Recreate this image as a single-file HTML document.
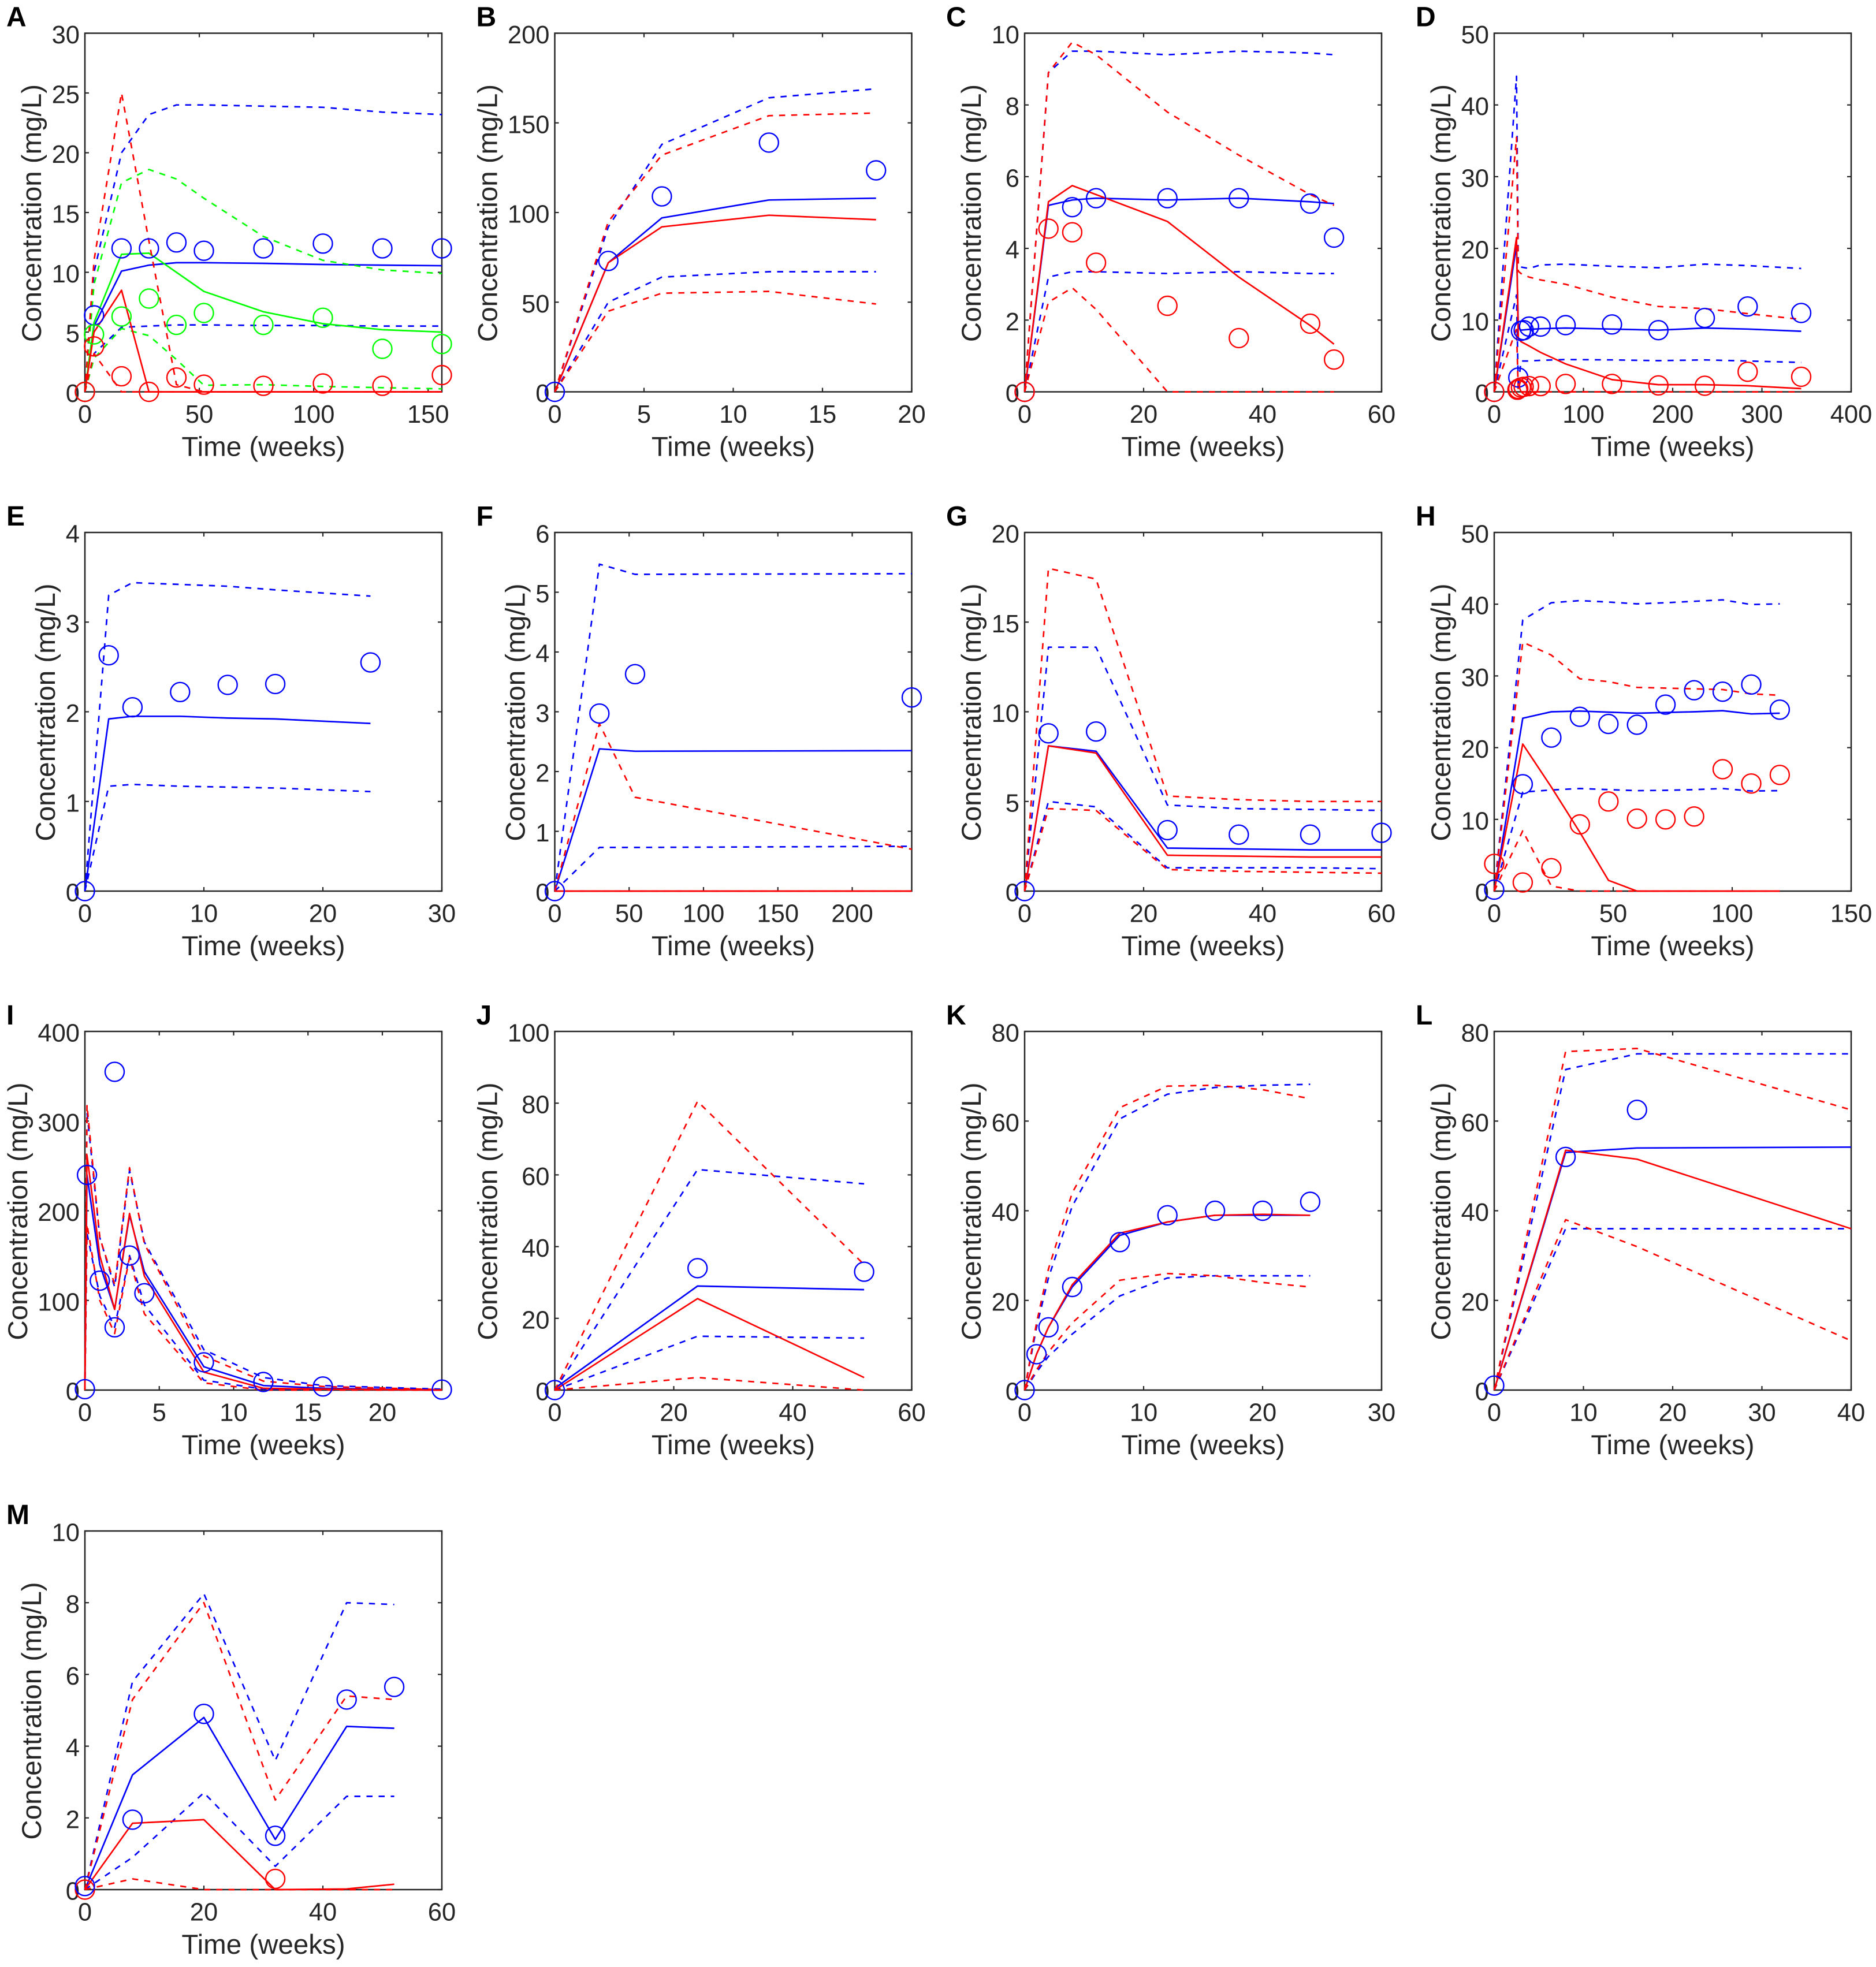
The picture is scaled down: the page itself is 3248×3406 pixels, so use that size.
<!DOCTYPE html>
<html>
<head>
<meta charset="utf-8">
<title>Concentration vs time panels</title>
<style>
html,body{margin:0;padding:0;background:#fff;}
svg{display:block;}
text{font-family:"Liberation Sans",sans-serif;fill:#262626;}
</style>
</head>
<body>
<svg id="figure" xmlns="http://www.w3.org/2000/svg" width="3248" height="3406" viewBox="0 0 3248 3406"></svg>
<script>
// ---------- Panel A ----------
const aXTicks=[0,50,100,150];
const aYTicks=[0,5,10,15,20,25,30];
const aTimes=[0,4,16,28,40,52,78,104,130,156];
const aBlueMid=[0,5.5,10.1,10.6,10.8,10.8,10.75,10.65,10.6,10.55];
const aBlueHigh=[0,10,20,23.2,24,24,23.9,23.8,23.4,23.2];
const aBlueLow=[0,3.2,5.4,5.5,5.6,5.6,5.55,5.55,5.5,5.5];
const aGreenMid=[0,5.8,11.5,11.6,10,8.4,6.7,5.7,5.2,5];
const aGreenHigh=[0,9,17.5,18.6,17.8,16.2,13,11,10.2,9.9];
const aGreenLow=[0,2.8,5.3,4.7,2.7,0.55,0.6,0.45,0.35,0.25];
const aRedMid=[0,5,8.5,0,0,0,0,0,0,0];
const aRedHigh=[0,11,25,12.6,0.6,0,0,0,0,0];
const aRedLow=[0,3.2,0,0,0,0,0,0,0,0];
const aBlueObs=[0,6.4,12,12,12.5,11.8,12,12.4,12,12];
const aGreenObs=[0,4.8,6.3,7.8,5.6,6.6,5.6,6.2,3.6,4];
const aRedObs=[0,3.8,1.3,0,1.2,0.6,0.5,0.7,0.5,1.4];
// ---------- Panel B ----------
const bXTicks=[0,5,10,15,20];
const bYTicks=[0,50,100,150,200];
const bTimes=[0,3,6,12,18];
const bBlueMid=[0,72,97,107,108];
const bBlueHigh=[0,92,138,164,169];
const bBlueLow=[0,50,64,67,67];
const bRedMid=[0,72,92,98.5,96];
const bRedHigh=[0,95,132,154,155.5];
const bRedLow=[0,45,55,56,49];
const bBlueObs=[0,73,109,139,123.5];
// ---------- Panel C ----------
const cXTicks=[0,20,40,60];
const cYTicks=[0,2,4,6,8,10];
const cTimes=[0,4,8,12,24,36,48,52];
const cBlueMid=[0,5.2,5.35,5.4,5.35,5.4,5.3,5.25];
const cBlueHigh=[0,8.9,9.5,9.5,9.4,9.5,9.45,9.4];
const cBlueLow=[0,3.2,3.35,3.35,3.3,3.35,3.3,3.3];
const cRedMid=[0,5.3,5.75,5.5,4.75,3.2,1.85,1.33];
const cRedHigh=[0,8.9,9.75,9.4,7.8,6.6,5.5,5.2];
const cRedLow=[0,2.5,2.9,2.3,0,0,0,0];
const cObsTimes=[0,4,8,12,24,36,48,52];
const cRedObs=[0,4.55,4.45,3.6,2.4,1.5,1.9,0.9];
const cBlueObsTimes=[0,8,12,24,36,48,52];
const cBlueObs=[0,5.15,5.4,5.4,5.4,5.25,4.3];
// ---------- Panel D ----------
const dXTicks=[0,100,200,300,400];
const dYTicks=[0,10,20,30,40,50];
const dTimes=[0,25,27,30,39,52,80,132,184,236,284,344];
const dBlueMid=[0,20.5,9,8.6,8.7,8.8,8.9,8.75,8.6,8.9,8.75,8.45];
const dBlueHigh=[0,44,17.5,17.4,17.2,17.7,17.8,17.5,17.3,17.8,17.6,17.2];
const dBlueLow=[0,13.5,0.7,4.3,4.3,4.4,4.5,4.45,4.35,4.45,4.3,4.1];
const dRedMid=[0,21.5,7.5,7,6.4,5.5,3.9,1.7,1,1,0.85,0.45];
const dRedHigh=[0,35.5,16.8,16.5,16,15.6,15,13.2,11.9,11.6,10.9,10.1];
const dRedLow=[0,8.8,0,0,0,0,0,0,0,0,0,0];
const dObsTimes=[0,26,27,30,33,39,52,80,132,184,236,284,344];
const dBlueObs=[0,0.3,2,8.5,8.6,9.1,9.1,9.3,9.4,8.6,10.3,11.9,11];
const dRedObs=[0,0.3,0.4,0.6,0.7,0.8,0.8,1.1,1.1,0.9,0.85,2.8,2.1];
// ---------- Panel E ----------
const eXTicks=[0,10,20,30];
const eYTicks=[0,1,2,3,4];
const eTimes=[0,2,4,8,12,16,24];
const eBlueMid=[0,1.92,1.95,1.95,1.93,1.92,1.87];
const eBlueHigh=[0,3.3,3.44,3.42,3.4,3.36,3.29];
const eBlueLow=[0,1.17,1.19,1.17,1.16,1.15,1.11];
const eBlueObs=[0,2.63,2.05,2.22,2.3,2.31,2.55];
// ---------- Panel F ----------
const fXTicks=[0,50,100,150,200];
const fYTicks=[0,1,2,3,4,5,6];
const fTimes=[0,30,54,240];
const fBlueMid=[0,2.38,2.34,2.35];
const fBlueHigh=[0,5.47,5.3,5.31];
const fBlueLow=[0,0.73,0.73,0.75];
const fRedMid=[0,0,0,0];
const fRedHigh=[0,2.8,1.57,0.7];
const fRedLow=[0,0,0,0];
const fBlueObs=[0,2.97,3.63,3.24];
// ---------- Panel G ----------
const gXTicks=[0,20,40,60];
const gYTicks=[0,5,10,15,20];
const gTimes=[0,4,12,24,36,48,60];
const gBlueMid=[0,8.1,7.8,2.4,2.35,2.3,2.3];
const gBlueHigh=[0,13.6,13.6,4.8,4.6,4.55,4.5];
const gBlueLow=[0,5,4.7,1.3,1.3,1.3,1.25];
const gRedMid=[0,8.1,7.7,2,1.95,1.9,1.9];
const gRedHigh=[0,18,17.4,5.3,5.1,5,5];
const gRedLow=[0,4.6,4.5,1.2,1.1,1.05,1];
const gBlueObs=[0,8.8,8.9,3.4,3.15,3.15,3.25];
// ---------- Panel H ----------
const hXTicks=[0,50,100,150];
const hYTicks=[0,10,20,30,40,50];
const hTimes=[0,12,24,36,48,60,72,84,96,108,120];
const hBlueMid=[0,24.1,25,25.1,24.95,24.8,24.9,25,25.15,24.7,24.8];
const hBlueHigh=[0,37.8,40.2,40.5,40.3,40.05,40.2,40.4,40.6,39.95,40.05];
const hBlueLow=[0,13.8,14.1,14.3,14.15,14,14.05,14.15,14.3,13.95,14];
const hRedMid=[0,20.5,14.5,8.2,1.5,0,0,0,0,0,0];
const hRedHigh=[0,34.7,32.9,29.6,29.2,28.4,28.3,28.2,28.1,27.5,27.3];
const hRedLow=[0,8.4,0.7,0,0,0,0,0,0,0,0];
const hRedObs=[3.8,1.2,3.2,9.3,12.5,10.1,10,10.4,17,15,16.2];
const hBlueObs=[0.2,14.9,21.4,24.3,23.3,23.2,26,28,27.8,28.8,25.3];
// ---------- Panel I ----------
const iXTicks=[0,5,10,15,20];
const iYTicks=[0,100,200,300,400];
const iTimes=[0,0.14,1,2,3,4,8,12,16,24];
const iBlueMid=[0,240,140,90,195,132,26,5,2,0];
const iBlueHigh=[0,310,170,115,245,165,45,14,5,1];
const iBlueLow=[0,175,105,70,150,95,11,1,1,0];
const iRedMid=[0,262,150,90,197,127,20,2,1,0];
const iRedHigh=[0,318,170,118,248,163,38,10,4,0.5];
const iRedLow=[0,185,100,63,148,85,8,0,0,0];
const iObsTimes=[0,0.14,1,2,2,3,4,8,12,16,24];
const iBlueObs=[1,240,122,355,70,150,108,31,9,4,0.5];
// ---------- Panel J ----------
const jXTicks=[0,20,40,60];
const jYTicks=[0,20,40,60,80,100];
const jTimes=[0,24,52];
const jBlueMid=[0.5,29,28];
const jBlueHigh=[0,61.5,57.5];
const jBlueLow=[0,15,14.5];
const jRedMid=[0,25.5,3.5];
const jRedHigh=[0,80.5,35];
const jRedLow=[0,3.5,0];
const jBlueObs=[0,34,33];
// ---------- Panel K ----------
const kXTicks=[0,10,20,30];
const kYTicks=[0,20,40,60,80];
const kTimes=[0,1,2,4,8,12,16,20,24];
const kBlueMid=[0,8,14,23,34.5,37.5,39,39,39];
const kBlueHigh=[0,14,25,41,60.5,66,67.5,68,68.2];
const kBlueLow=[0,4,7.5,12.5,21,25,25.5,25.5,25.5];
const kRedMid=[0,8,14,23.5,35,37.5,39,39.2,39];
const kRedHigh=[0,15,27,44,63,67.8,68,67,65];
const kRedLow=[0,4.5,8.5,15,24.5,26,25.5,24,23];
const kBlueObs=[0,8,14,23,33,39,40,40,42];
// ---------- Panel L ----------
const lXTicks=[0,10,20,30,40];
const lYTicks=[0,20,40,60,80];
const lTimes=[0,8,16,40];
const lBlueMid=[0,53,54,54.2];
const lBlueHigh=[0,71.5,75,75];
const lBlueLow=[0,36,36,36];
const lRedMid=[0,53.5,51.5,36];
const lRedHigh=[0,75.5,76.2,62.5];
const lRedLow=[0,38,32,11];
const lObsTimes=[0,8,16];
const lBlueObs=[1,52,62.5];
// ---------- Panel M ----------
const mXTicks=[0,20,40,60];
const mYTicks=[0,2,4,6,8,10];
const mTimes=[0,8,20,32,44,52];
const mBlueMid=[0,3.2,4.8,1.4,4.55,4.5];
const mBlueHigh=[0,5.8,8.25,3.6,8,7.95];
const mBlueLow=[0,0.9,2.7,0.65,2.6,2.6];
const mRedMid=[0,1.85,1.95,0,0.02,0.15];
const mRedHigh=[0,5.3,8,2.5,5.4,5.3];
const mRedLow=[0,0.3,0,0,0,0];
const mRedObsTimes=[0,32];
const mRedObs=[0,0.3];
const mBlueObs=[0.1,1.95,4.9,1.5,5.3,5.65];

const BLUE='#0000ff', RED='#ff0000', GREEN='#00ff00', INK='#262626';
const colLeft=[147,960.5,1774,2587];
const rowTop=[57.5,922,1786,2651];
const plotW=618, plotH=621;
const NS='http://www.w3.org/2000/svg';
const fig=document.getElementById('figure');

function make(tag,parent){
  const el=document.createElementNS(NS,tag);
  parent.appendChild(el);
  return el;
}
function band(color,label,xs,mid,high,low){
  return [
    {color:color,dash:false,name:label+'-median-line',xs:xs,ys:mid},
    {color:color,dash:true,name:label+'-upper-bound-line',xs:xs,ys:high},
    {color:color,dash:true,name:label+'-lower-bound-line',xs:xs,ys:low}
  ];
}
const panelDefs=[
 {id:'A',col:0,row:0,xMax:156,xTicks:aXTicks,yTicks:aYTicks,
  lines:[].concat(band(BLUE,'blue',aTimes,aBlueMid,aBlueHigh,aBlueLow),band(GREEN,'green',aTimes,aGreenMid,aGreenHigh,aGreenLow),band(RED,'red',aTimes,aRedMid,aRedHigh,aRedLow)),
  obs:[{color:BLUE,name:'blue',xs:aTimes,ys:aBlueObs},{color:GREEN,name:'green',xs:aTimes,ys:aGreenObs},{color:RED,name:'red',xs:aTimes,ys:aRedObs}]},
 {id:'B',col:1,row:0,xMax:20,xTicks:bXTicks,yTicks:bYTicks,
  lines:[].concat(band(BLUE,'blue',bTimes,bBlueMid,bBlueHigh,bBlueLow),band(RED,'red',bTimes,bRedMid,bRedHigh,bRedLow)),
  obs:[{color:BLUE,name:'blue',xs:bTimes,ys:bBlueObs}]},
 {id:'C',col:2,row:0,xMax:60,xTicks:cXTicks,yTicks:cYTicks,
  lines:[].concat(band(BLUE,'blue',cTimes,cBlueMid,cBlueHigh,cBlueLow),band(RED,'red',cTimes,cRedMid,cRedHigh,cRedLow)),
  obs:[{color:BLUE,name:'blue',xs:cBlueObsTimes,ys:cBlueObs},{color:RED,name:'red',xs:cObsTimes,ys:cRedObs}]},
 {id:'D',col:3,row:0,xMax:400,xTicks:dXTicks,yTicks:dYTicks,
  lines:[].concat(band(BLUE,'blue',dTimes,dBlueMid,dBlueHigh,dBlueLow),band(RED,'red',dTimes,dRedMid,dRedHigh,dRedLow)),
  obs:[{color:BLUE,name:'blue',xs:dObsTimes,ys:dBlueObs},{color:RED,name:'red',xs:dObsTimes,ys:dRedObs}]},
 {id:'E',col:0,row:1,xMax:30,xTicks:eXTicks,yTicks:eYTicks,
  lines:band(BLUE,'blue',eTimes,eBlueMid,eBlueHigh,eBlueLow),
  obs:[{color:BLUE,name:'blue',xs:eTimes,ys:eBlueObs}]},
 {id:'F',col:1,row:1,xMax:240,xTicks:fXTicks,yTicks:fYTicks,
  lines:[].concat(band(BLUE,'blue',fTimes,fBlueMid,fBlueHigh,fBlueLow),band(RED,'red',fTimes,fRedMid,fRedHigh,fRedLow)),
  obs:[{color:BLUE,name:'blue',xs:fTimes,ys:fBlueObs}]},
 {id:'G',col:2,row:1,xMax:60,xTicks:gXTicks,yTicks:gYTicks,
  lines:[].concat(band(BLUE,'blue',gTimes,gBlueMid,gBlueHigh,gBlueLow),band(RED,'red',gTimes,gRedMid,gRedHigh,gRedLow)),
  obs:[{color:BLUE,name:'blue',xs:gTimes,ys:gBlueObs}]},
 {id:'H',col:3,row:1,xMax:150,xTicks:hXTicks,yTicks:hYTicks,
  lines:[].concat(band(BLUE,'blue',hTimes,hBlueMid,hBlueHigh,hBlueLow),band(RED,'red',hTimes,hRedMid,hRedHigh,hRedLow)),
  obs:[{color:RED,name:'red',xs:hTimes,ys:hRedObs},{color:BLUE,name:'blue',xs:hTimes,ys:hBlueObs}]},
 {id:'I',col:0,row:2,xMax:24,xTicks:iXTicks,yTicks:iYTicks,
  lines:[].concat(band(BLUE,'blue',iTimes,iBlueMid,iBlueHigh,iBlueLow),band(RED,'red',iTimes,iRedMid,iRedHigh,iRedLow)),
  obs:[{color:BLUE,name:'blue',xs:iObsTimes,ys:iBlueObs}]},
 {id:'J',col:1,row:2,xMax:60,xTicks:jXTicks,yTicks:jYTicks,
  lines:[].concat(band(BLUE,'blue',jTimes,jBlueMid,jBlueHigh,jBlueLow),band(RED,'red',jTimes,jRedMid,jRedHigh,jRedLow)),
  obs:[{color:BLUE,name:'blue',xs:jTimes,ys:jBlueObs}]},
 {id:'K',col:2,row:2,xMax:30,xTicks:kXTicks,yTicks:kYTicks,
  lines:[].concat(band(BLUE,'blue',kTimes,kBlueMid,kBlueHigh,kBlueLow),band(RED,'red',kTimes,kRedMid,kRedHigh,kRedLow)),
  obs:[{color:BLUE,name:'blue',xs:kTimes,ys:kBlueObs}]},
 {id:'L',col:3,row:2,xMax:40,xTicks:lXTicks,yTicks:lYTicks,
  lines:[].concat(band(BLUE,'blue',lTimes,lBlueMid,lBlueHigh,lBlueLow),band(RED,'red',lTimes,lRedMid,lRedHigh,lRedLow)),
  obs:[{color:BLUE,name:'blue',xs:lObsTimes,ys:lBlueObs}]},
 {id:'M',col:0,row:3,xMax:60,xTicks:mXTicks,yTicks:mYTicks,
  lines:[].concat(band(BLUE,'blue',mTimes,mBlueMid,mBlueHigh,mBlueLow),band(RED,'red',mTimes,mRedMid,mRedHigh,mRedLow)),
  obs:[{color:RED,name:'red',xs:mRedObsTimes,ys:mRedObs},{color:BLUE,name:'blue',xs:mTimes,ys:mBlueObs}]}
];

function drawPanel(p){
  const left=colLeft[p.col], top=rowTop[p.row], bottom=top+plotH, right=left+plotW;
  const yMax=p.yTicks[p.yTicks.length-1];
  const xScale=v=>left+v/p.xMax*plotW;
  const yScale=v=>bottom-v/yMax*plotH;
  const key=p.id.toLowerCase();

  const g=make('g',fig);
  
  

  const letter=make('text',g);
  
  
  letter.setAttribute('x',left-136);
  letter.setAttribute('y',top-12);
  letter.setAttribute('font-size','48');
  letter.setAttribute('font-weight','bold');
  letter.style.fill='#000';
  letter.textContent=p.id;

  // axes box
  const box=make('rect',g);
  
  
  box.setAttribute('x',left);
  box.setAttribute('y',top);
  box.setAttribute('width',plotW);
  box.setAttribute('height',plotH);
  box.setAttribute('fill','none');
  box.setAttribute('stroke',INK);
  box.setAttribute('stroke-width','2.5');

  // x ticks
  p.xTicks.forEach(t=>{
    const x=xScale(t);
    [[bottom,bottom-7],[top,top+7]].forEach(pair=>{
      const tick=make('line',g);
      
      
      tick.setAttribute('x1',x);
      tick.setAttribute('x2',x);
      tick.setAttribute('y1',pair[0]);
      tick.setAttribute('y2',pair[1]);
      tick.setAttribute('stroke',INK);
      tick.setAttribute('stroke-width','2.2');
    });
    const label=make('text',g);
    
    
    label.setAttribute('x',x);
    label.setAttribute('y',bottom+53.5);
    label.setAttribute('font-size','43.5');
    label.setAttribute('text-anchor','middle');
    label.textContent=t;
  });

  // y ticks
  p.yTicks.forEach(t=>{
    const y=yScale(t);
    [[left,left+7],[right,right-7]].forEach(pair=>{
      const tick=make('line',g);
      
      
      tick.setAttribute('x1',pair[0]);
      tick.setAttribute('x2',pair[1]);
      tick.setAttribute('y1',y);
      tick.setAttribute('y2',y);
      tick.setAttribute('stroke',INK);
      tick.setAttribute('stroke-width','2.2');
    });
    const label=make('text',g);
    
    
    label.setAttribute('x',left-9);
    label.setAttribute('y',y+17.5);
    label.setAttribute('font-size','43.5');
    label.setAttribute('text-anchor','end');
    label.textContent=t;
  });

  // series lines (drawn over the axes so baseline runs stay visible)
  p.lines.forEach(s=>{
    const line=make('polyline',g);
    
    
    line.setAttribute('points',s.xs.map((x,i)=>xScale(x).toFixed(1)+','+yScale(s.ys[i]).toFixed(1)).join(' '));
    line.setAttribute('fill','none');
    line.setAttribute('stroke',s.color);
    line.setAttribute('stroke-width','2.7');
    line.setAttribute('stroke-linejoin','round');
    if(s.dash) line.setAttribute('stroke-dasharray','10.5 10.5');
  });

  // observation circles
  p.obs.forEach(s=>{
    s.xs.forEach((x,i)=>{
      const c=make('circle',g);
      
      
      c.setAttribute('cx',xScale(x).toFixed(1));
      c.setAttribute('cy',yScale(s.ys[i]).toFixed(1));
      c.setAttribute('r','16.5');
      c.setAttribute('fill','none');
      c.setAttribute('stroke',s.color);
      c.setAttribute('stroke-width','2.4');
    });
  });

  // axis titles
  const xTitle=make('text',g);
  
  
  xTitle.setAttribute('x',left+plotW/2);
  xTitle.setAttribute('y',bottom+111);
  xTitle.setAttribute('font-size','47.5');
  xTitle.setAttribute('text-anchor','middle');
  xTitle.textContent='Time (weeks)';

  const digits=String(yMax).length;
  const titleX=left-52-24*(digits-1);
  const titleY=top+plotH/2+1;
  const yTitle=make('text',g);
  
  
  yTitle.setAttribute('transform','translate('+titleX+','+titleY+') rotate(-90)');
  yTitle.setAttribute('font-size','47.5');
  yTitle.setAttribute('text-anchor','middle');
  yTitle.textContent='Concentration (mg/L)';
}
panelDefs.forEach(drawPanel);
</script>
</body>
</html>
